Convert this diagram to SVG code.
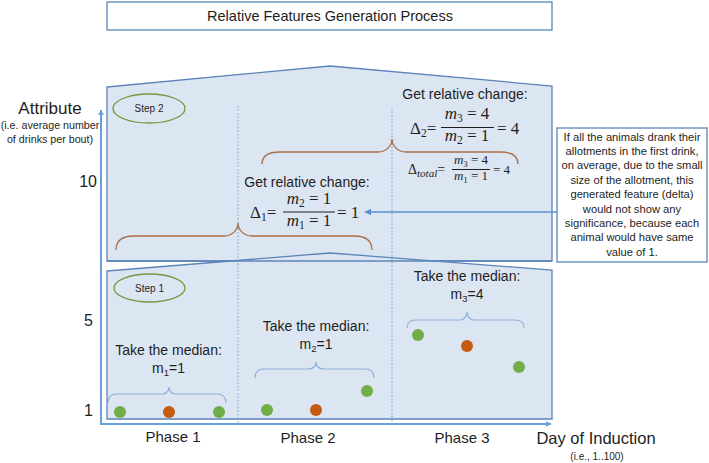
<svg xmlns="http://www.w3.org/2000/svg" width="709" height="463" viewBox="0 0 709 463">
<defs>
<style>
.t{font-family:"Liberation Sans",Arial,sans-serif;fill:#1e1e1e}
.m{font-family:"Liberation Serif","DejaVu Serif",serif;fill:#1e1e1e}
.i{font-style:italic}
.panel{fill:#dce6f2;stroke:#5b84b8;stroke-width:1.3}
.edge{fill:none;stroke:#5b84b8;stroke-width:1.3}
.dot{stroke:#6f9fd6;stroke-width:1;stroke-dasharray:1.5 2}
.axis{stroke:#6a9fd8;stroke-width:2;fill:none}
.bb{fill:none;stroke:#a86f48;stroke-width:1.3}
.lb{fill:none;stroke:#8fb0dc;stroke-width:1.2}
.step{fill:none;stroke:#77973f;stroke-width:1.3}
.g{fill:#70ad47}
.o{fill:#c55a11}
.bar{stroke:#1e1e1e;stroke-width:1}
</style>
<marker id="ah" viewBox="0 0 10 10" refX="9" refY="5" markerWidth="6" markerHeight="6" orient="auto-start-reverse" markerUnits="userSpaceOnUse">
<path d="M0,0 L10,5 L0,10 Z" fill="#6a9fd8"/>
</marker>
<marker id="ah2" viewBox="0 0 10 10" refX="9" refY="5" markerWidth="7" markerHeight="7" orient="auto" markerUnits="userSpaceOnUse">
<path d="M0,0 L10,5 L0,10 Z" fill="#5b8fcf"/>
</marker>
</defs>

<g id="title">
<rect x="107" y="2" width="445" height="28" fill="#ffffff" stroke="#5b84b8" stroke-width="1.3"/>
<text class="t" x="330" y="21" font-size="14.5" text-anchor="middle">Relative Features Generation Process</text>
</g>

<g id="step2-panel">
<polygon class="panel" points="107,87 330,66 552,86 552,261 107,261"/>
</g>
<g id="step1-panel">
<polygon class="panel" points="107,271 330,253 552,270 552,419 107,419"/>
<line class="edge" x1="107" y1="261" x2="552" y2="261"/>
</g>

<g id="connectors">
<line class="dot" x1="238" y1="106" x2="238" y2="423"/>
<line class="dot" x1="392" y1="108" x2="392" y2="423"/>
<line class="axis" x1="101" y1="424" x2="101" y2="110" marker-end="url(#ah)"/>
<line class="axis" x1="100" y1="424" x2="551" y2="424" marker-end="url(#ah)"/>
<line x1="557" y1="212" x2="365" y2="212" stroke="#5b8fcf" stroke-width="1.3" marker-end="url(#ah2)"/>
</g>

<g id="y-axis-labels">
<text class="t" x="50" y="114" font-size="17" text-anchor="middle">Attribute</text>
<text class="t" x="50" y="129" font-size="10.7" text-anchor="middle">(i.e. average number</text>
<text class="t" x="50" y="143" font-size="10.7" text-anchor="middle">of drinks per bout)</text>
<text class="t" x="97" y="187" font-size="16" text-anchor="end">10</text>
<text class="t" x="93" y="326" font-size="16" text-anchor="end">5</text>
<text class="t" x="93" y="416" font-size="16" text-anchor="end">1</text>
</g>

<g id="step2">
<ellipse class="step" cx="149" cy="108.5" rx="36" ry="14.5"/>
<text class="t" x="149" y="112" font-size="10" text-anchor="middle">Step 2</text>
</g>
<g id="step1">
<ellipse class="step" cx="149.5" cy="288" rx="35.5" ry="14"/>
<text class="t" x="149.5" y="291.5" font-size="10" text-anchor="middle">Step 1</text>
</g>

<g id="delta2">
<text class="t" x="465" y="99" font-size="14" text-anchor="middle">Get relative change:</text>
<text class="m" x="410" y="134" font-size="17">Δ<tspan font-size="11.5" dy="3">2</tspan><tspan dy="-3">=</tspan></text>
<text class="m" x="467" y="119" font-size="17" text-anchor="middle"><tspan class="i">m</tspan><tspan font-size="11.5" dy="3">3</tspan><tspan dy="-3"> = 4</tspan></text>
<line class="bar" x1="441" y1="127.5" x2="494" y2="127.5"/>
<text class="m" x="467" y="141" font-size="17" text-anchor="middle"><tspan class="i">m</tspan><tspan font-size="11.5" dy="3">2</tspan><tspan dy="-3"> = 1</tspan></text>
<text class="m" x="497" y="134" font-size="17">= 4</text>
<path class="bb" d="M262,164 C262,156 268,152 280,152 L378,152 C386,152 392,146 392,139 C392,146 398,152 406,152 L500,152 C512,152 518,156 518,164"/>
</g>

<g id="delta-total">
<text class="m" x="408" y="174" font-size="14">Δ<tspan class="i" font-size="11" dy="2.5">total</tspan><tspan dy="-2.5">=</tspan></text>
<text class="m" x="471" y="164" font-size="13" text-anchor="middle"><tspan class="i">m</tspan><tspan font-size="9" dy="2.5">3</tspan><tspan dy="-2.5"> = 4</tspan></text>
<line class="bar" x1="452" y1="169.5" x2="490" y2="169.5" stroke-width="0.8"/>
<text class="m" x="471" y="180" font-size="13" text-anchor="middle"><tspan class="i">m</tspan><tspan font-size="9" dy="2.5">1</tspan><tspan dy="-2.5"> = 1</tspan></text>
<text class="m" x="493" y="174" font-size="13">= 4</text>
</g>

<g id="delta1">
<text class="t" x="307" y="187" font-size="14" text-anchor="middle">Get relative change:</text>
<text class="m" x="250" y="218" font-size="17">Δ<tspan font-size="11.5" dy="3">1</tspan><tspan dy="-3">=</tspan></text>
<text class="m" x="309" y="204" font-size="17" text-anchor="middle"><tspan class="i">m</tspan><tspan font-size="11.5" dy="3">2</tspan><tspan dy="-3"> = 1</tspan></text>
<line class="bar" x1="283" y1="212" x2="335" y2="212"/>
<text class="m" x="309" y="226" font-size="17" text-anchor="middle"><tspan class="i">m</tspan><tspan font-size="11.5" dy="3">1</tspan><tspan dy="-3"> = 1</tspan></text>
<text class="m" x="337" y="218" font-size="17">= 1</text>
<path class="bb" d="M116,250 C116,241 122,236 134,236 L224,236 C232,236 238,230 238,223 C238,230 244,236 252,236 L354,236 C366,236 372,241 372,250"/>
</g>

<g id="note">
<rect x="557" y="128" width="150" height="134" fill="#ffffff" stroke="#5b84b8" stroke-width="1.3"/>
<g class="t" font-size="11.2" text-anchor="middle">
<text x="632" y="140.5">If all the animals drank their</text>
<text x="632" y="154.9">allotments in the first drink,</text>
<text x="632" y="169.3">on average, due to the small</text>
<text x="632" y="183.7">size of the allotment, this</text>
<text x="632" y="198.1">generated feature (delta)</text>
<text x="632" y="212.5">would not show any</text>
<text x="632" y="226.9">significance, because each</text>
<text x="632" y="241.3">animal would have same</text>
<text x="632" y="255.7">value of 1.</text>
</g>
</g>

<g id="phase1">
<text class="t" x="168.5" y="355" font-size="14" text-anchor="middle">Take the median:</text>
<text class="t" x="168.5" y="373" font-size="14" text-anchor="middle">m<tspan font-size="9.5" dy="3">1</tspan><tspan dy="-3">=1</tspan></text>
<path class="lb" d="M108,403 C108,397 111,394 117,394 L162,394 C166,394 169,391 169,387 C169,391 172,394 176,394 L217,394 C223,394 226,397 226,403"/>
<circle class="g" cx="120" cy="412" r="6"/>
<circle class="o" cx="169" cy="412" r="6"/>
<circle class="g" cx="219" cy="412" r="6"/>
<text class="t" x="173" y="442" font-size="15" text-anchor="middle">Phase 1</text>
</g>

<g id="phase2">
<text class="t" x="316" y="331" font-size="14" text-anchor="middle">Take the median:</text>
<text class="t" x="316" y="349" font-size="14" text-anchor="middle">m<tspan font-size="9.5" dy="3">2</tspan><tspan dy="-3">=1</tspan></text>
<path class="lb" d="M255,378 C255,372 258,369 264,369 L309,369 C313,369 316,366 316,362 C316,366 319,369 323,369 L365,369 C371,369 374,372 374,378"/>
<circle class="g" cx="267" cy="410" r="6"/>
<circle class="o" cx="316" cy="410" r="6"/>
<circle class="g" cx="367" cy="391" r="6"/>
<text class="t" x="308" y="443" font-size="15" text-anchor="middle">Phase 2</text>
</g>

<g id="phase3">
<text class="t" x="467" y="281" font-size="14" text-anchor="middle">Take the median:</text>
<text class="t" x="467" y="299" font-size="14" text-anchor="middle">m<tspan font-size="9.5" dy="3">3</tspan><tspan dy="-3">=4</tspan></text>
<path class="lb" d="M407,328 C407,323 410,320 416,320 L460,320 C464,320 467,316 467,312 C467,316 470,320 474,320 L515,320 C521,320 524,323 524,328"/>
<circle class="g" cx="418" cy="335" r="6"/>
<circle class="o" cx="467" cy="346" r="6"/>
<circle class="g" cx="519" cy="367" r="6"/>
<text class="t" x="462" y="443" font-size="15" text-anchor="middle">Phase 3</text>
</g>

<g id="x-axis-label">
<text class="t" x="596" y="444" font-size="16.5" text-anchor="middle">Day of Induction</text>
<text class="t" x="597" y="460" font-size="10" text-anchor="middle">(i.e., 1..100)</text>
</g>
</svg>
